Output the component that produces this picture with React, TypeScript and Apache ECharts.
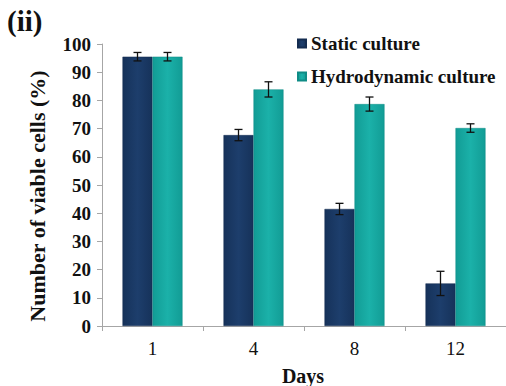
import React, { useEffect, useRef } from "react";
import * as echarts from "echarts";

const categories = ["1", "4", "8", "12"];
const staticValues = [95.5, 67.7, 41.5, 15.1];
const staticErrors = [1.5, 2.0, 2.0, 4.3];
const hydroValues = [95.5, 83.9, 78.7, 70.2];
const hydroErrors = [1.5, 2.7, 2.5, 1.5];
const yTicks = { min: 0, max: 100, interval: 10 };

const FONT = "Liberation Serif";
const BAR_W = 30;

function errSeries(name: string, values: number[], errs: number[], offset: number) {
  return {
    type: "custom",
    name: name + "-err",
    z: 10,
    silent: true,
    data: values.map((v, i) => [i, v, errs[i]]),
    renderItem: (params: any, api: any) => {
      const i = api.value(0);
      const v = api.value(1);
      const e = api.value(2);
      const top = api.coord([i, v + e]);
      const bot = api.coord([i, v - e]);
      const x = top[0] + offset;
      const hw = 4;
      const style = { stroke: "#111", lineWidth: 1.3 };
      return {
        type: "group",
        children: [
          { type: "line", shape: { x1: x, y1: top[1], x2: x, y2: bot[1] }, style },
          { type: "line", shape: { x1: x - hw, y1: top[1], x2: x + hw, y2: top[1] }, style },
          { type: "line", shape: { x1: x - hw, y1: bot[1], x2: x + hw, y2: bot[1] }, style },
        ],
      };
    },
  };
}

function grad(edge: string, mid: string) {
  return new echarts.graphic.LinearGradient(0, 0, 1, 0, [
    { offset: 0, color: edge },
    { offset: 0.5, color: mid },
    { offset: 1, color: edge },
  ]);
}

export default function App() {
  const ref = useRef<HTMLDivElement>(null);
  useEffect(() => {
    if (!ref.current) return;
    const chart = echarts.init(ref.current, undefined, { renderer: "svg" });
    chart.setOption({
      animation: false,
      backgroundColor: "#fff",
      title: {
        text: "(ii)",
        left: 2,
        top: 1,
        textStyle: { fontFamily: FONT, fontWeight: "bold", fontSize: 29, color: "#111" },
      },
      legend: {
        orient: "vertical",
        left: 292,
        top: 29,
        itemWidth: 8,
        itemHeight: 8,
        itemGap: 14,
        icon: "rect",
        data: ["Static culture", "Hydrodynamic culture"],
        textStyle: { fontFamily: FONT, fontWeight: "bold", fontSize: 19, color: "#111" },
      },
      graphic: [
        {
          type: "text",
          x: 37,
          y: 196,
          rotation: Math.PI / 2,
          style: {
            text: "Number of viable cells (%)",
            fontFamily: FONT,
            fontWeight: "bold",
            fontSize: 22,
            fill: "#111",
            align: "center",
            verticalAlign: "middle",
          },
        },
        {
          type: "text",
          x: 303,
          y: 376,
          style: {
            text: "Days",
            fontFamily: FONT,
            fontWeight: "bold",
            fontSize: 20,
            fill: "#111",
            align: "center",
            verticalAlign: "middle",
          },
        },
      ],
      grid: { left: 102, top: 44, width: 414, height: 282, containLabel: false },
      xAxis: {
        type: "category",
        data: categories,
        axisLine: { lineStyle: { color: "#a6a6a6", width: 1 } },
        axisTick: { show: true, length: 5, lineStyle: { color: "#a6a6a6" } },
        axisLabel: { fontFamily: FONT, fontSize: 19, color: "#111", margin: 13 },
      },
      yAxis: {
        type: "value",
        min: yTicks.min,
        max: yTicks.max,
        interval: yTicks.interval,
        axisLine: { show: true, lineStyle: { color: "#a6a6a6", width: 1 } },
        axisTick: { show: true, length: 5, lineStyle: { color: "#a6a6a6" } },
        splitLine: { show: false },
        axisLabel: { fontFamily: FONT, fontWeight: "bold", fontSize: 19, color: "#111", margin: 11 },
      },
      series: [
        {
          type: "bar",
          name: "Static culture",
          data: staticValues,
          barWidth: BAR_W,
          barGap: "0%",
          itemStyle: { color: grad("#16325a", "#1d3e6c"), borderColor: "#142c50", borderWidth: 0.5 },
        },
        {
          type: "bar",
          name: "Hydrodynamic culture",
          data: hydroValues,
          barWidth: BAR_W,
          barGap: "0%",
          itemStyle: { color: grad("#129c95", "#1bb1a9"), borderColor: "#0f8c86", borderWidth: 0.5 },
        },
        errSeries("static", staticValues, staticErrors, -BAR_W / 2),
        errSeries("hydro", hydroValues, hydroErrors, BAR_W / 2),
      ],
    });
    return () => chart.dispose();
  }, []);
  return (
    <div
      ref={ref}
      style={{ position: "fixed", left: 0, top: 0, width: 506, height: 386 }}
    />
  );
}
